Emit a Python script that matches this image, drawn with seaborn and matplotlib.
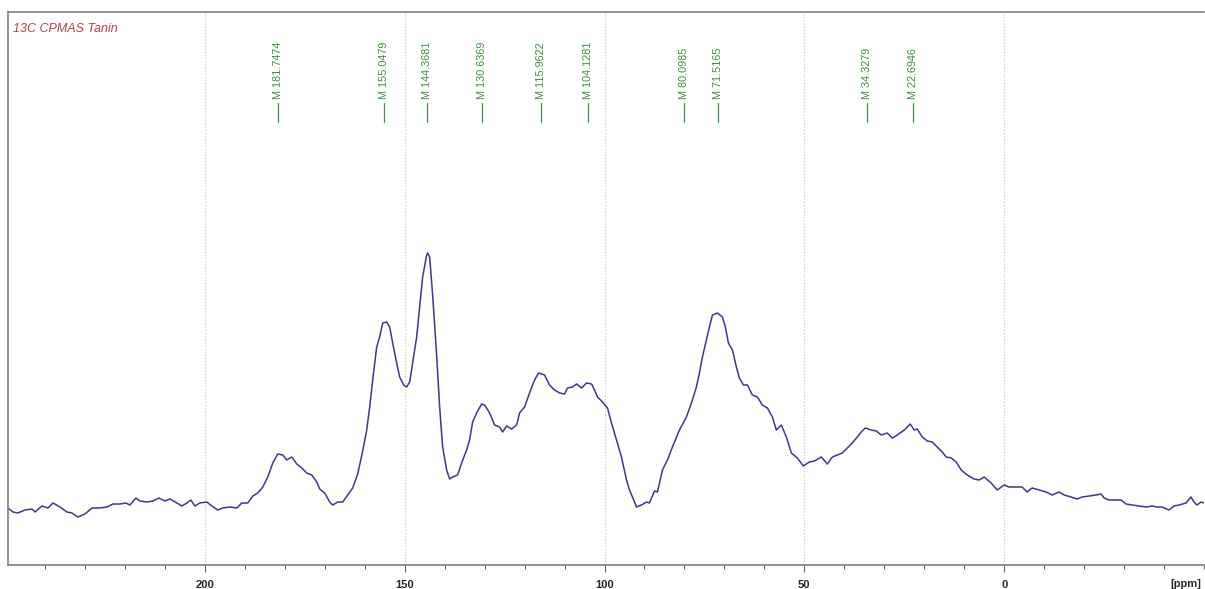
import matplotlib
matplotlib.use("Agg")
import numpy as np
import pandas as pd
import matplotlib.pyplot as plt
import seaborn as sns
from matplotlib.ticker import MultipleLocator
from matplotlib.transforms import blended_transform_factory

# ===============================
# Data
# ===============================

ppm = [
    249.25, 248.0, 246.75, 245.0, 243.25, 242.5, 240.75, 239.25, 238.0, 236.25,
    234.5, 233.25, 231.75, 230.0, 228.25, 226.25, 224.5, 223.0, 221.25, 219.75,
    218.75, 217.25, 216.25, 214.5, 213.0, 211.5, 210.0, 208.75, 207.0, 205.75,
    204.5, 203.5, 202.5, 201.25, 199.5, 198.25, 196.75, 195.5, 193.75, 192.0,
    190.75, 189.25, 188.0, 186.75, 185.5, 184.25, 183.0, 181.75, 180.5, 179.5,
    178.25, 177.0, 175.75, 174.5, 173.25, 172.0, 171.25, 170.0, 168.75, 168.0,
    166.75, 165.5, 164.25, 163.0, 161.75, 160.5, 159.5, 158.75, 158.0, 157.0,
    156.25, 155.5, 154.5, 153.75, 153.0, 152.0, 151.25, 150.25, 149.5, 148.75,
    148.0, 147.0, 146.25, 145.5, 144.5, 144.25, 143.75, 143.0, 142.0, 141.25,
    140.5, 139.5, 138.75, 138.0, 136.75, 135.75, 134.5, 133.75, 133.0, 132.0,
    130.75, 130.0, 128.75, 127.5, 126.25, 125.5, 124.5, 123.25, 122.0, 121.25,
    120.0, 118.75, 117.5, 116.5, 115.0, 113.75, 112.5, 111.25, 110.0, 109.25,
    108.0, 107.0, 105.75, 104.5, 103.25, 102.5, 101.75, 100.5, 99.25, 98.25,
    97.0, 95.75, 94.5, 93.75, 93.0, 92.0, 90.75, 89.5, 88.75, 87.5,
    86.75, 85.5, 84.25, 83.0, 81.25, 79.5, 78.25, 77.0, 76.25, 75.5,
    74.5, 73.75, 73.0, 71.75, 70.5, 69.75, 69.0, 68.0, 67.0, 66.25,
    65.25, 64.25, 63.0, 61.75, 60.5, 59.25, 58.0, 57.0, 55.75, 54.5,
    53.25, 51.75, 50.25, 48.75, 47.5, 45.75, 44.25, 43.0, 41.75, 40.5,
    39.25, 38.0, 36.75, 35.75, 34.75, 33.25, 32.0, 30.75, 29.25, 28.0,
    26.75, 25.0, 23.5, 22.5, 21.75, 20.5, 19.25, 18.0, 16.75, 15.5,
    14.5, 13.25, 12.0, 10.75, 9.25, 7.5, 6.25, 5.0, 3.25, 1.75,
    0.0, -1.25, -3.0, -4.5, -5.75, -7.0, -8.75, -10.5, -12.0, -13.75,
    -15.0, -16.75, -18.25, -19.5, -21.25, -23.0, -24.25, -25.0, -26.25, -28.0,
    -29.25, -30.5, -32.0, -33.75, -35.5, -37.0, -38.25, -39.5, -41.25, -42.5,
    -43.75, -45.5, -46.75, -47.5, -48.25, -49.25, -50.0,
]

intensity = [
    57, 53, 52, 55, 56, 53, 59, 57, 62, 58,
    53, 52, 48, 51, 57, 57, 58, 61, 61, 62,
    60, 67, 64, 63, 64, 67, 64, 66, 62, 59,
    62, 65, 59, 62, 63, 59, 55, 57, 58, 57,
    62, 62, 69, 72, 78, 88, 102, 111, 110, 105,
    108, 101, 97, 92, 90, 83, 76, 72, 63, 60,
    63, 63, 70, 77, 91, 114, 135, 158, 185, 218,
    228, 242, 243, 238, 222, 202, 188, 180, 178, 183,
    202, 228, 258, 288, 310, 312, 308, 270, 210, 158,
    118, 95, 86, 88, 90, 102, 115, 125, 143, 152,
    161, 160, 152, 140, 138, 133, 139, 136, 140, 152,
    158, 172, 185, 192, 190, 180, 175, 172, 171, 177,
    178, 181, 177, 182, 181, 175, 168, 163, 157, 142,
    125, 108, 85, 75, 68, 58, 60, 63, 62, 74,
    73, 95, 105, 118, 135, 148, 162, 178, 192, 208,
    225, 238, 250, 252, 248, 238, 222, 215, 198, 187,
    180, 180, 170, 168, 160, 157, 148, 135, 140, 128,
    112, 107, 99, 103, 104, 108, 101, 108, 110, 112,
    117, 122, 128, 133, 137, 135, 134, 130, 132, 127,
    130, 135, 141, 135, 136, 128, 124, 123, 118, 113,
    108, 107, 103, 95, 90, 86, 85, 88, 82, 75,
    80, 78, 78, 78, 73, 77, 75, 73, 70, 73,
    70, 68, 66, 68, 69, 70, 71, 67, 65, 65,
    65, 61, 60, 59, 58, 59, 58, 58, 55, 59,
    60, 62, 68, 63, 60, 63, 62,
]

peak_ppm = [181.7474, 155.0479, 144.3681, 130.6369, 115.9622,
            104.1281, 80.0985, 71.5165, 34.3279, 22.6946]
peak_labels = [f"M {p:.4f}" for p in peak_ppm]

x_ticks = [200, 150, 100, 50, 0]
title_text = "13C CPMAS Tanin"

df = pd.DataFrame({"ppm": ppm, "intensity": intensity})

# ===============================
# Plot
# ===============================

sns.set_style("white")
plt.rcParams["font.family"] = ["Liberation Sans", "DejaVu Sans"]

fig = plt.figure(figsize=(12.05, 5.89), dpi=100)
ax = fig.add_axes([8 / 1205, 24 / 589, 1196 / 1205, 553 / 589])

sns.lineplot(data=df, x="ppm", y="intensity", sort=False, ax=ax,
             color="#3a3a8c", linewidth=1.1)

ax.set_xlim(249.25, -50)
ax.set_ylim(0, 553)

# dotted grid at the labelled ppm values
for xv in x_ticks:
    ax.axvline(xv, color="#c8c8c8", linestyle=(0, (1, 1.5)), linewidth=0.9, zorder=0)

# peak markers
trans = blended_transform_factory(ax.transData, ax.transAxes)
for p, lab in zip(peak_ppm, peak_labels):
    ax.plot([p, p], [0.801, 0.835], transform=trans, color="#4a8f4a", linewidth=0.9)
    ax.text(p, 0.842, lab, transform=trans, rotation=90, ha="center", va="bottom",
            fontsize=7.8, color="#3f8f3f")

ax.text(0.004, 0.98, title_text, transform=ax.transAxes, ha="left", va="top",
        fontsize=9, fontstyle="italic", color="#b84050")

# axes styling
ax.set_xticks(x_ticks)
ax.set_xticklabels([str(t) for t in x_ticks], fontsize=8, fontweight="bold")
ax.xaxis.set_minor_locator(MultipleLocator(10))
ax.tick_params(axis="x", which="major", direction="out", length=5, width=0.8,
               color="#606060", pad=6, bottom=True)
ax.tick_params(axis="x", which="minor", direction="out", length=3, width=0.8,
               color="#606060", bottom=True)
ax.set_yticks([])
ax.set_xlabel("")
ax.set_ylabel("")

for side in ["left", "top", "bottom"]:
    ax.spines[side].set_color("#808080")
    ax.spines[side].set_linewidth(1.2)
ax.spines["right"].set_visible(False)

ax.text(0.998, -0.034, "[ppm]", transform=ax.transAxes, ha="right", va="center",
        fontsize=8, fontweight="bold")

fig.savefig("out.png", dpi=100)
plt.close(fig)
